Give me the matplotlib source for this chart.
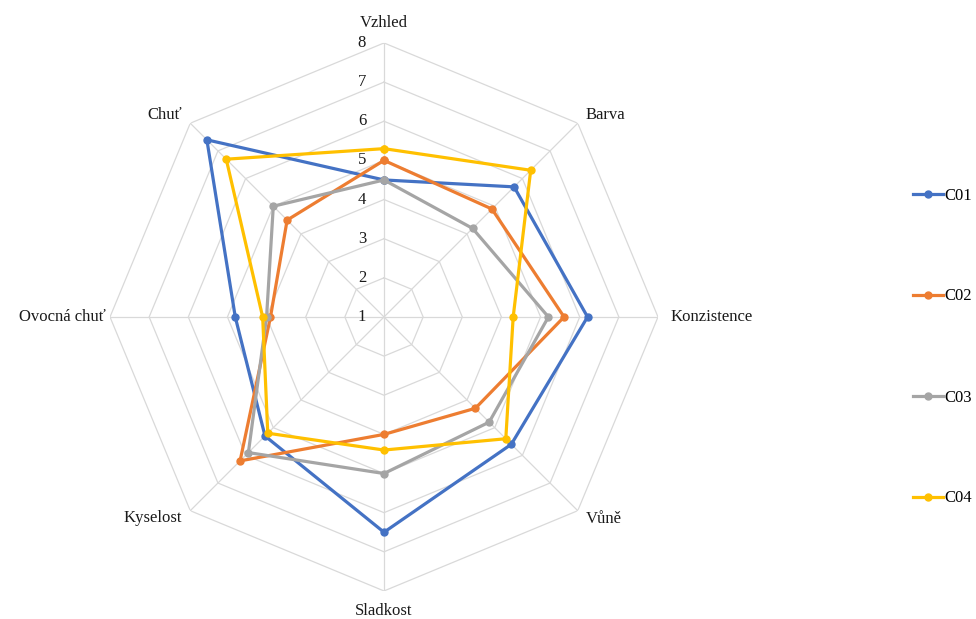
import numpy as np
import matplotlib.pyplot as plt
from matplotlib.transforms import offset_copy

plt.rcParams['font.family'] = ['Liberation Serif', 'DejaVu Serif']

categories = ['Vzhled', 'Barva', 'Konzistence', 'Vůně', 'Sladkost',
              'Kyselost', 'Ovocná chuť', 'Chuť']
series_names = ['C01', 'C02', 'C03', 'C04']
c01 = [4.5, 5.7, 6.2, 5.6, 6.5, 5.3, 4.8, 7.4]
c02 = [5.0, 4.9, 5.6, 4.3, 4.0, 6.2, 3.9, 4.5]
c03 = [4.5, 4.2, 5.2, 4.8, 5.0, 5.9, 4.0, 5.0]
c04 = [5.3, 6.3, 4.3, 5.4, 4.4, 5.2, 4.1, 6.7]
ring_values = [1, 2, 3, 4, 5, 6, 7, 8]

colors = ['#4472C4', '#ED7D31', '#A5A5A5', '#FFC000']
grid_color = '#D9D9D9'

fig = plt.figure(figsize=(9.76, 6.19), dpi=100)
ax = fig.add_axes([0.1127, 0.0453, 0.5615, 0.8853], projection='polar')
ax.set_theta_offset(np.pi / 2)
ax.set_theta_direction(-1)
ax.set_ylim(1, 8)
ax.set_xticks([])
ax.set_yticks([])
ax.grid(False)
ax.spines['polar'].set_visible(False)

n = len(categories)
angles = np.arange(n) * 2 * np.pi / n
closed = np.append(angles, angles[0])

# octagonal rings and spokes
for r in ring_values[1:]:
    ax.plot(closed, [r] * (n + 1), color=grid_color, lw=0.9, zorder=1)
for a in angles:
    ax.plot([a, a], [1, 8], color=grid_color, lw=0.9, zorder=1)

# value labels just left of the vertical spoke
tick_tr = offset_copy(ax.transData, fig=fig, x=-22, y=0, units='dots')
for r in ring_values:
    ax.text(0, r, str(r), transform=tick_tr, ha='center', va='center',
            fontsize=12, color='#1a1a1a')

for name, vals, col in zip(series_names, [c01, c02, c03, c04], colors):
    v = np.append(vals, vals[0])
    ax.plot(closed, v, color=col, lw=2.3, marker='o', markersize=5,
            label=name, zorder=3, clip_on=False)

# category labels (radius, alignment)
label_pos = [(8.50, 'center'), (8.28, 'left'), (8.31, 'left'), (8.30, 'left'),
             (8.52, 'center'), (8.28, 'right'), (8.10, 'right'), (8.30, 'right')]
for a, text, (r, ha) in zip(angles, categories, label_pos):
    ax.text(a, r, text, ha=ha, va='center', fontsize=12, color='#1a1a1a')

fig.legend(loc='center left', bbox_to_anchor=(913 / 976, 1 - 347 / 619),
           frameon=False, fontsize=12, borderpad=0, borderaxespad=0,
           labelspacing=5.1, handlelength=1.8, handletextpad=0.1)

fig.savefig('out.png', dpi=100)
